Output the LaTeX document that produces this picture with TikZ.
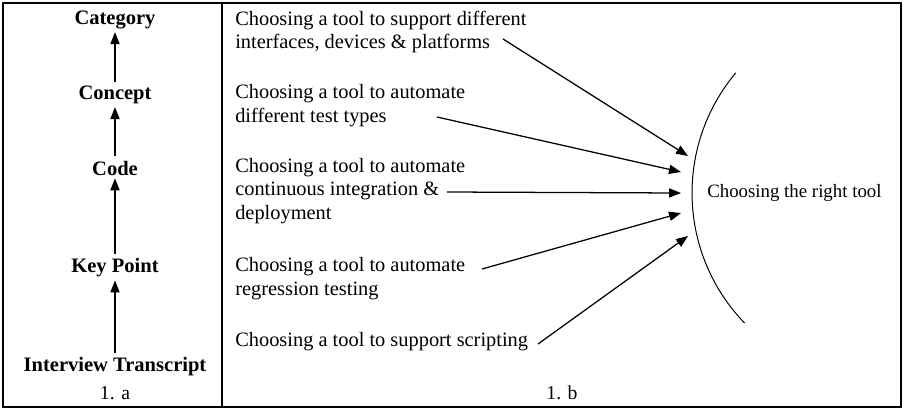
\documentclass[tikz,border=0pt]{standalone}
\usepackage{fontspec}
\setmainfont{Liberation Serif}
\usetikzlibrary{arrows.meta}

\begin{document}
\begin{tikzpicture}[x=0.025cm, y=-0.025cm,
    lvl/.style={font=\fontsize{14.6}{16}\selectfont\bfseries, inner sep=0pt},
    item/.style={anchor=west, align=left, inner sep=0pt,
                 font=\fontsize{14.5}{16.9}\selectfont},
    tag/.style={font=\fontsize{14}{16}\selectfont, inner sep=0pt},
    arr/.style={-{Triangle[length=8.5pt,width=6.5pt]}, line width=0.9pt}
  ]
  \useasboundingbox (0,0) rectangle (904,410);

  % frame and divider
  \draw[line width=1.4pt] (3,3) rectangle (901,407);
  \draw[line width=1.4pt] (222,3) -- (222,407);

  % 1.a  coding levels
  \node[lvl] (cat) at (115,20)  {Category};
  \node[lvl] (con) at (115,95)  {Concept};
  \node[lvl] (cod) at (115,168) {Code};
  \node[lvl] (key) at (115,268) {Key Point};
  \node[lvl] (itr) at (115,367) {Interview Transcript};
  \node[tag] (la)  at (115,393) {1. a};

  \draw[arr] ([yshift=3pt]itr.north) -- ([yshift=-2pt]key.south);
  \draw[arr] ([yshift=3pt]key.north) -- ([yshift=-2pt]cod.south);
  \draw[arr] ([yshift=3pt]cod.north) -- ([yshift=-2pt]con.south);
  \draw[arr] ([yshift=3pt]con.north) -- ([yshift=-2pt]cat.south);

  % 1.b  sub-categories
  \node[item] (t1) at (235,32)
        {Choosing a tool to support different\\interfaces, devices \& platforms};
  \node[item] (t2) at (235,106)
        {Choosing a tool to automate\\different test types};
  \node[item] (t3) at (235,191)
        {Choosing a tool to automate\\continuous integration \&\\deployment};
  \node[item] (t4) at (235,279)
        {Choosing a tool to automate\\regression testing};
  \node[item] (t5) at (235,342)
        {Choosing a tool to support scripting};
  \node[tag] (lb) at (562,393) {1. b};

  \node[item, font=\fontsize{13.4}{15}\selectfont] (right) at (707,193)
        {Choosing the right tool};
  \draw[line width=0.7pt] (735.8,72.8) arc[start angle=140, end angle=224, radius=4.675cm];

  % arrow ends
  \coordinate (s1) at (503,39);  \coordinate (e1) at (688,156);
  \coordinate (s2) at (437,117); \coordinate (e2) at (681,172);
  \coordinate (s3) at (447,192); \coordinate (e3) at (681,193);
  \coordinate (s4) at (482,269); \coordinate (e4) at (681,213);
  \coordinate (s5) at (538,344); \coordinate (e5) at (688,236);

  \foreach \i in {1,...,5}
    \draw[arr] (s\i) -- (e\i);
\end{tikzpicture}
\end{document}
